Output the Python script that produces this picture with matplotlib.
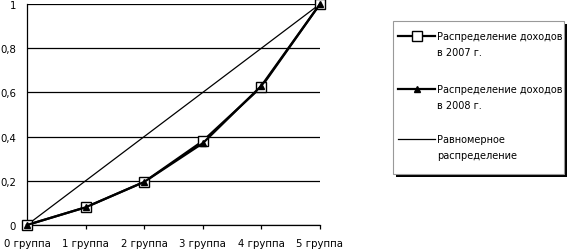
import matplotlib
matplotlib.use('Agg')
import matplotlib.pyplot as plt
from matplotlib.patches import Rectangle
from matplotlib.lines import Line2D
import numpy as np

groups = ['0 группа', '1 группа', '2 группа', '3 группа', '4 группа', '5 группа']
income_2007 = [0, 0.08, 0.195, 0.38, 0.625, 1.0]
income_2008 = [0, 0.08, 0.195, 0.37, 0.63, 1.0]
uniform = [0, 0.2, 0.4, 0.6, 0.8, 1.0]
yticks = [0, 0.2, 0.4, 0.6, 0.8, 1.0]
ylabels = ['0', '0,2', '0,4', '0,6', '0,8', '1']
legend_labels = [('Распределение доходов', 'в 2007 г.'),
                 ('Распределение доходов', 'в 2008 г.'),
                 ('Равномерное', 'распределение')]

W, H = 568, 251

def fx(px):
    return px / W

def fy(py):
    # pixel row from the top -> figure fraction
    return 1 - py / H

plt.rcParams['font.family'] = ['DejaVu Sans']
fig = plt.figure(figsize=(W/100, H/100), dpi=100)
ax = fig.add_axes([fx(27), 25/H, 293/W, 221/H])

x = np.arange(len(groups))
styles = [
    dict(c='black', linewidth=1.6, marker='s', markersize=6.5, markerfacecolor='white',
         markeredgecolor='black', markeredgewidth=1.0, zorder=3),
    dict(c='black', linewidth=1.6, marker='^', markersize=4.5, markerfacecolor='black',
         markeredgecolor='black', zorder=4),
    dict(c='black', linewidth=0.9, zorder=2),
]
for vals, st in zip([income_2007, income_2008, uniform], styles):
    ax.plot(x, vals, clip_on=False, **st)

ax.set_xlim(0, 5)
ax.set_ylim(0, 1)
ax.set_yticks(yticks)
ax.set_yticklabels(ylabels)
ax.set_xticks(x)
ax.set_xticklabels(groups)
ax.yaxis.grid(True, color='black', linewidth=0.9)
ax.set_axisbelow(True)
for s in ['top', 'right']:
    ax.spines[s].set_visible(False)
ax.spines['left'].set_linewidth(0.9)
ax.spines['bottom'].set_linewidth(0.9)
ax.tick_params(axis='x', length=3, width=0.9, labelsize=7.3, pad=6.5)
ax.tick_params(axis='y', length=0, labelsize=7.3, pad=8)

# legend: box with black shadow, handles aligned to first text line
fig.add_artist(Rectangle((fx(396), fy(178)), fx(564) - fx(393), fy(22) - fy(175),
                         transform=fig.transFigure, facecolor='black', edgecolor='none'))
fig.add_artist(Rectangle((fx(393), fy(175)), fx(564) - fx(393), fy(22) - fy(175),
                         transform=fig.transFigure, facecolor='white',
                         edgecolor='#999999', linewidth=0.8))
rows = [37, 90, 140]
for row, (a, b), st in zip(rows, legend_labels, styles):
    st = dict(st)
    st.pop('zorder')
    mk = st.pop('marker', None)
    line_st = {k: v for k, v in st.items() if not k.startswith('marker')}
    fig.add_artist(Line2D([fx(398), fx(435)], [fy(row), fy(row)],
                          transform=fig.transFigure, **line_st))
    if mk:
        fig.add_artist(Line2D([fx(416.5)], [fy(row)], transform=fig.transFigure,
                              linestyle='none', marker=mk, **st))
    fig.text(fx(437), fy(row), a, fontsize=7.0, va='center', ha='left')
    fig.text(fx(437), fy(row + 16), b, fontsize=7.0, va='center', ha='left')

fig.savefig('out.png', dpi=100)
